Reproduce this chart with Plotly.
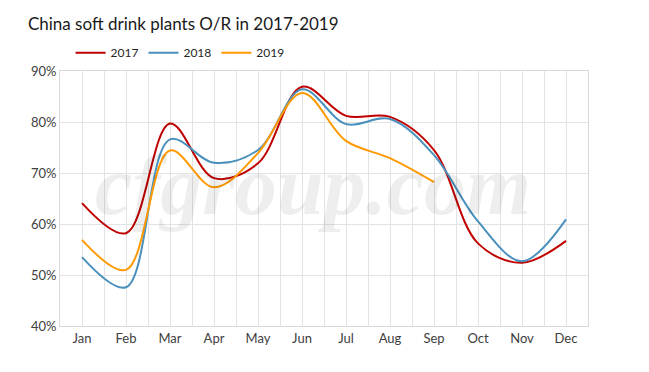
import plotly.graph_objects as go

months = ["Jan", "Feb", "Mar", "Apr", "May", "Jun", "Jul", "Aug", "Sep", "Oct", "Nov", "Dec"]
or_2017 = [64.1, 58.2, 79.7, 69.0, 71.9, 86.9, 81.2, 81.0, 74.5, 56.2, 52.4, 56.7]
or_2018 = [53.5, 47.6, 76.6, 72.0, 74.5, 86.4, 79.6, 80.6, 73.5, 60.5, 52.7, 60.9]
or_2019 = [56.9, 51.0, 74.4, 67.2, 73.9, 85.7, 76.3, 72.9, 68.2]
y_ticks = [40, 50, 60, 70, 80, 90]

series = [("2017", or_2017, "#C00000"), ("2018", or_2018, "#4A90BD"), ("2019", or_2019, "#FF9900")]

fig = go.Figure()
for name, vals, color in series:
    fig.add_trace(go.Scatter(
        x=list(range(len(vals))), y=vals, name=name, mode="lines",
        line=dict(color=color, width=2, shape="spline", smoothing=1.0),
    ))

font_main = "Lato, 'Liberation Sans', sans-serif"

fig.update_layout(
    width=649, height=372,
    margin=dict(l=60, r=61, t=71, b=46),
    paper_bgcolor="white", plot_bgcolor="white",
    title=dict(text="China soft drink plants O/R in 2017-2019", x=0.043, xanchor="left",
               y=0.935, yanchor="middle", font=dict(family=font_main, size=17, color="#1a1a1a")),
    legend=dict(orientation="h", x=0.02, xanchor="left", y=1.015, yanchor="bottom",
                font=dict(family=font_main, size=12, color="#262626"),
                itemwidth=30, tracegroupgap=0, bgcolor="rgba(0,0,0,0)"),
    showlegend=True,
    font=dict(family=font_main, size=12, color="#404040"),
)

fig.update_xaxes(
    range=[-0.5, 11.5], tickmode="array", tickvals=list(range(12)), ticktext=months,
    showgrid=True, gridcolor="#E3E3E3", gridwidth=1,
    minor=dict(tickmode="linear", tick0=-0.5, dtick=1, showgrid=True, gridcolor="#E3E3E3", gridwidth=1),
    showline=True, linecolor="#D9D9D9", mirror=True, zeroline=False, ticks="",
    tickfont=dict(family=font_main, size=13, color="#404040"),
)
fig.update_yaxes(
    range=[40, 90], tickmode="array", tickvals=y_ticks, ticktext=[f"{v}%" for v in y_ticks],
    showgrid=True, gridcolor="#E3E3E3", gridwidth=1,
    showline=True, linecolor="#D9D9D9", mirror=True, zeroline=False, ticks="", ticklen=0,
    tickfont=dict(family=font_main, size=13, color="#404040"),
)

fig.add_annotation(text="<b><i>cfgroup.com</i></b>", xref="paper", yref="paper", x=0.48, y=0.55,
                   showarrow=False, xanchor="center", yanchor="middle",
                   font=dict(family="'Liberation Serif', 'DejaVu Serif', serif", size=84, color="rgba(0,0,0,0.065)"))

fig.write_html("out.html", config={"displayModeBar": False},
               post_script="document.body.style.margin='0px';document.body.style.overflow='hidden';")
